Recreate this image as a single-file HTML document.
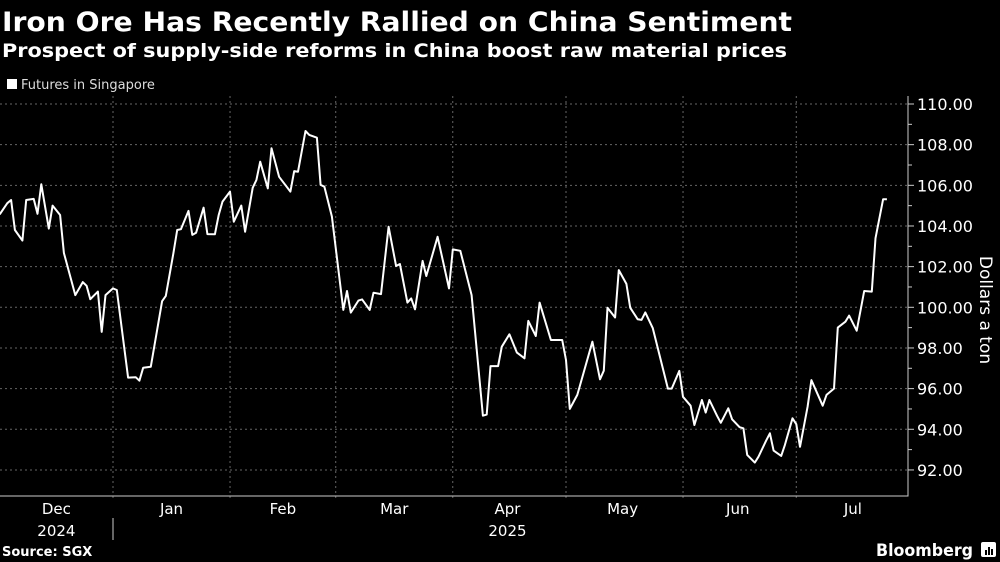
<!DOCTYPE html>
<html><head><meta charset="utf-8"><style>
html,body{margin:0;padding:0;background:#000;width:1000px;height:562px;overflow:hidden}
svg{display:block}
text{font-family:"DejaVu Sans","Liberation Sans",sans-serif;fill:#fff}
</style></head><body>
<svg id="chart" width="1000" height="562" viewBox="0 0 1000 562">
<text x="2" y="31" font-size="27" font-weight="bold" textLength="790" lengthAdjust="spacingAndGlyphs">Iron Ore Has Recently Rallied on China Sentiment</text>
<text x="2" y="57" font-size="19" font-weight="bold" textLength="785" lengthAdjust="spacingAndGlyphs">Prospect of supply-side reforms in China boost raw material prices</text>
<g>
<rect x="7" y="79" width="10" height="10" fill="#fff"></rect>
<text x="21" y="89" font-size="13" fill="#ddd" style="fill:#ddd">Futures in Singapore</text>
</g>
<g id="grid"></g>
<g id="axes"></g>
<path id="line" fill="none" stroke="#fff" stroke-width="2" stroke-linejoin="round"></path>
<text transform="translate(980,310) rotate(90)" text-anchor="middle" font-size="17">Dollars a ton</text>
<text x="2" y="556" font-size="13" font-weight="bold">Source: SGX</text>
<text x="876" y="556" font-size="17" font-weight="bold" textLength="97" lengthAdjust="spacingAndGlyphs">Bloomberg</text>
<g><rect x="981" y="542" width="15" height="15" rx="2" fill="#fff"></rect><rect x="985" y="550" width="2" height="5" fill="#000"></rect><rect x="988" y="547" width="2" height="8" fill="#000"></rect><rect x="991" y="549" width="2" height="6" fill="#000"></rect></g>
</svg>
<script>
// days since 2025-01-01
const days = [-30,-28,-27,-26,-24,-23,-21,-20,-19,-17,-16,-14,-13,-10,-8,-7,-6,-4,-3,-2,0,1,4,6,7,8,10,13,14,16,17,18,20,21,22,24,25,27,28,29,31,32,34,35,37,38,39,41,42,44,47,48,49,51,52,54,55,56,58,61,62,63,65,66,68,69,71,73,75,76,78,79,80,82,83,86,89,90,92,95,98,99,100,102,103,105,107,109,110,112,113,116,119,120,121,123,127,129,130,131,133,134,136,137,139,140,141,143,147,148,150,151,153,154,156,157,158,160,161,163,164,166,167,168,170,171,173,174,175,177,178,180,181,182,184,185,188,189,191,192,194,195,197,199,201,202,204,205];
const prices = [104.57,105.12,105.28,103.8,103.28,105.28,105.33,104.6,106.05,103.87,105.0,104.54,102.67,100.6,101.24,101.06,100.4,100.77,98.79,100.6,100.93,100.85,96.54,96.56,96.39,97.03,97.08,100.3,100.56,102.66,103.8,103.84,104.74,103.56,103.67,104.9,103.6,103.59,104.54,105.2,105.69,104.21,105.0,103.72,105.88,106.26,107.16,105.85,107.82,106.42,105.69,106.7,106.67,108.67,108.48,108.34,106.02,105.93,104.46,99.87,100.8,99.74,100.33,100.39,99.87,100.72,100.65,103.96,102.03,102.13,100.23,100.44,99.9,102.28,101.54,103.47,100.93,102.85,102.78,100.6,94.67,94.72,97.11,97.11,98.06,98.67,97.77,97.49,99.33,98.59,100.23,98.39,98.39,97.41,95.0,95.69,98.31,96.46,96.88,99.98,99.5,101.83,101.15,99.98,99.41,99.38,99.75,98.97,96.0,96.0,96.87,95.6,95.16,94.21,95.44,94.82,95.44,94.67,94.32,95.03,94.49,94.1,94.05,92.74,92.36,92.65,93.44,93.8,92.95,92.69,93.23,94.54,94.25,93.14,95.11,96.42,95.16,95.69,96.0,99.0,99.29,99.59,98.85,100.8,100.77,103.4,105.31,105.31];
const yTicks = [92,94,96,98,100,102,104,106,108,110];
const monthLabels = ["Dec","Jan","Feb","Mar","Apr","May","Jun","Jul"];
const monthStarts = [-31,0,31,59,90,120,151,181];
const monthMids = [-15,15.5,45,74.5,104.5,135,165.5,196];
const yearLabels = ["2024","2025"];
const yearMids = [-15,104.5];

const NS="http://www.w3.org/2000/svg";
const X0=113, PXD=3.775, plotL=0, plotR=908, plotB=496;
const x = d => X0 + d*PXD;
const y = v => 104 + (110 - v)*20.33;
function mk(tag, attrs, parent){const e=document.createElementNS(NS,tag);for(const k in attrs)e.setAttribute(k,attrs[k]);parent.appendChild(e);return e;}
const grid=document.getElementById('grid'), axes=document.getElementById('axes');
const yMax=Math.max(...yTicks);
yTicks.forEach(v=>{
  const g=mk('line',{x1:plotL,x2:plotR,y1:y(v),y2:y(v),stroke:'#666','stroke-dasharray':'2,3','stroke-width':1},grid);
  
  
  const t=mk('line',{x1:plotR,x2:plotR+6,y1:y(v),y2:y(v),stroke:'#ccc','stroke-width':1},axes);
  
  
  if(v<yMax){
    const m=mk('line',{x1:plotR,x2:plotR+4,y1:y(v+1),y2:y(v+1),stroke:'#ccc','stroke-width':1},axes);
    
    
  }
  const lb=mk('text',{x:plotR+9,y:y(v)+6,'font-size':16},axes);
  lb.textContent=v.toFixed(2);
  
  
});
monthStarts.forEach(d=>{
  if(x(d)<0)return;
  const g=mk('line',{x1:x(d),x2:x(d),y1:96,y2:plotB+4,stroke:'#666','stroke-dasharray':'2,3','stroke-width':1},grid);
  
  
});
const ax=mk('path',{d:`M${plotR},96 V${plotB} H0`,stroke:'#ccc',fill:'none','stroke-width':1},axes);


monthLabels.forEach((m,i)=>{
  const t=mk('text',{x:x(monthMids[i]),y:514,'font-size':15,'text-anchor':'middle'},axes);
  t.textContent=m;
  
  
});
yearLabels.forEach((m,i)=>{
  const t=mk('text',{x:x(yearMids[i]),y:536,'font-size':15,'text-anchor':'middle'},axes);
  t.textContent=m;
  
  
});
const sep=mk('line',{x1:x(0),x2:x(0),y1:518,y2:540,stroke:'#ccc','stroke-width':1},axes);


document.getElementById('line').setAttribute('d', days.map((d,i)=>(i?'L':'M')+x(d).toFixed(1)+','+y(prices[i]).toFixed(1)).join(' '));
</script>
</body></html>
